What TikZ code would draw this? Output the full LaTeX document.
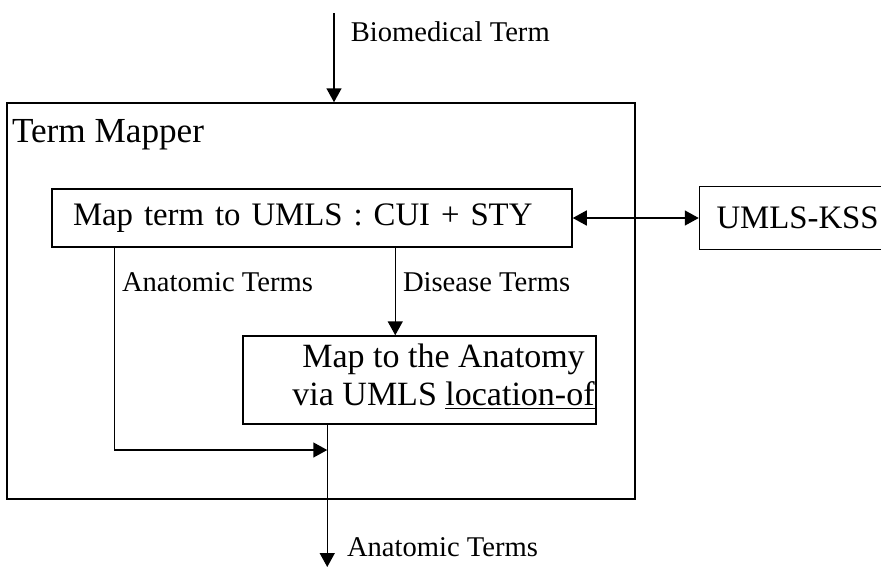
\documentclass[tikz,border=0pt]{standalone}
\usepackage{fontspec}
\setmainfont{Liberation Serif}
\usetikzlibrary{%
    arrows.meta,
    calc,
    positioning
}
\newcommand{\boxfont}{\fontsize{17}{19}\selectfont}
\newcommand{\narrowfont}{\fontsize{16.4}{19}\selectfont}
\newcommand{\lblfont}{\fontsize{14.3}{16}\selectfont}
\tikzset{flowarrow/.style = {-{Triangle[length=7pt,width=7.5pt]}}}

\begin{document}
\begin{tikzpicture}[
    x=.5pt, y=-.5pt, line width=.75pt,
    box/.style = {draw, inner sep=0pt, font=\boxfont},
    lbl/.style = {right, inner sep=0pt, font=\lblfont}]
    \clip (0,0) rectangle (881,568);

    \node[box, minimum width=314pt, minimum height=198pt] (mapper) at (321,301) {};
    \node[font=\boxfont, anchor=base west, inner sep=0pt] (title)
        at ($(mapper.north west)+(5,40)$) {\fontsize{17.6}{19}\selectfont Term Mapper};

    \node[box, font=\narrowfont, minimum height=29pt, text width=239pt,
        inner xsep=10.5pt, align=left] (cuimap) at (312,218) {Map term to UMLS : CUI + STY};
    \node[box, font=\narrowfont, right=63pt of cuimap, minimum height=31.5pt,
        text width=88pt, inner xsep=8.5pt, align=left] (kss) {UMLS-KSS};

    \node[box, minimum width=176.5pt, minimum height=44pt] (anatomy) at (419.5,380) {};
    \node[font=\boxfont, align=center, inner sep=0pt] (anatomytext)
        at ($(anatomy.center)+(24,-3)$) {Map to the Anatomy\\via UMLS \underline{location-of}};

    \coordinate (entry) at (334,13);
    \coordinate (diseasestart) at ($(cuimap.south west)+(344,0)$);
    \coordinate (anatstart) at ($(cuimap.south west)+(63,0)$);
    \coordinate (outstart) at ($(anatomy.south west)+(85,0)$);
    \coordinate (outend) at (outstart |- 0,567);
    \coordinate (anatcorner) at (anatstart |- 0,450);

    \draw[flowarrow] (entry) to
        node [lbl, pos=.21, xshift=8pt] {Biomedical Term} (entry |- mapper.north);
    \draw[{Triangle[length=7pt,width=7.5pt]}-{Triangle[length=7pt,width=7.5pt]}]
        (cuimap) to (kss);
    \draw[flowarrow] (diseasestart) to
        node [lbl, pos=.39, xshift=3.5pt] {Disease Terms} (diseasestart |- anatomy.north);
    \draw[flowarrow] (anatstart) to
        node [lbl, pos=.17, xshift=3.5pt] {Anatomic Terms} (anatcorner)
        to (anatcorner -| outstart);
    \draw[flowarrow] (outstart) to
        node [lbl, pos=.86, xshift=9.5pt] {Anatomic Terms} (outend);
\end{tikzpicture}
\end{document}
